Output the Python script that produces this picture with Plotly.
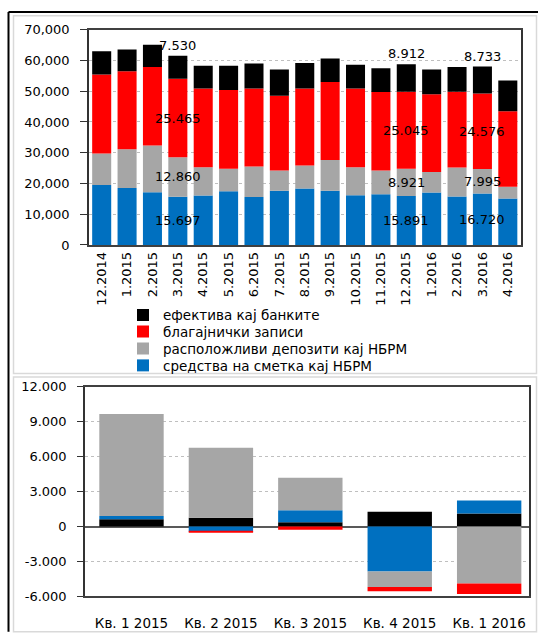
import plotly.graph_objects as go

W, H = 538, 634

# ---------------- data: top chart ----------------
months = ["12.2014", "1.2015", "2.2015", "3.2015", "4.2015", "5.2015", "6.2015",
          "7.2015", "8.2015", "9.2015", "10.2015", "11.2015", "12.2015", "1.2016",
          "2.2016", "3.2016", "4.2016"]
sredstva = [19500, 18540, 17140, 15697, 16100, 17460, 15560, 17590, 18320, 17590,
            16190, 16510, 15891, 17050, 15780, 16720, 15140]
depoziti = [10250, 12560, 15240, 12860, 9200, 7300, 9960, 6660, 7520, 10030,
            9110, 7740, 8921, 6660, 9420, 7995, 3810]
zapisi = [25700, 25400, 25520, 25465, 25600, 25620, 25380, 24320, 25080, 25400,
          25620, 25500, 25045, 25290, 24640, 24576, 24540]
efektiva = [7550, 7100, 7180, 7530, 7400, 7920, 8150, 8480, 8250, 7620,
            7710, 7710, 8912, 8050, 8060, 8733, 9970]
labelled_months = ["3.2015", "12.2015", "3.2016"]
top_tickvals = [0, 10000, 20000, 30000, 40000, 50000, 60000, 70000]
top_ticktext = ["0", "10,000", "20,000", "30,000", "40,000", "50,000", "60,000", "70,000"]

# ---------------- data: bottom chart ----------------
quarters = ["Кв. 1 2015", "Кв. 2 2015", "Кв. 3 2015", "Кв. 4 2015", "Кв. 1 2016"]
q_efektiva = [620, 757, 365, 1260, 1120]
q_sredstva = [280, -450, 1035, -3870, 1120]
q_depoziti = [8770, 6000, 2800, -1320, -4900]
q_zapisi = [0, -50, -280, -360, -900]
bot_tickvals = [-6000, -3000, 0, 3000, 6000, 9000, 12000]
bot_ticktext = ["-6.000", "-3.000", "0", "3.000", "6.000", "9.000", "12.000"]

names = {
    "ef": "ефектива кај банките",
    "za": "благајнички записи",
    "de": "расположливи депозити кај НБРМ",
    "sr": "средства на сметка кај НБРМ",
}
colors = {"ef": "#000000", "za": "#FF0000", "de": "#A6A6A6", "sr": "#0070C0"}

FONT = "DejaVu Sans"


def px_x(x):
    return x / W


def px_y(y):
    return 1 - y / H


# each legend entry gets its own legend box so rows can be spaced like the reference
legend_ids = {"ef": "legend", "za": "legend2", "de": "legend3", "sr": "legend4"}
legend_rows = {"legend": 315.7, "legend2": 332.7, "legend3": 350.0, "legend4": 367.3}

fig = go.Figure()

# top chart traces (bottom to top of stack)
for key, vals in [("sr", sredstva), ("de", depoziti), ("za", zapisi), ("ef", efektiva)]:
    fig.add_trace(go.Bar(x=months, y=vals, name=names[key], marker_color=colors[key],
                         marker_line_width=0, width=0.75, xaxis="x", yaxis="y",
                         legend=legend_ids[key]))

# bottom chart traces
for key, vals in [("ef", q_efektiva), ("sr", q_sredstva), ("de", q_depoziti), ("za", q_zapisi)]:
    fig.add_trace(go.Bar(x=quarters, y=vals, name=names[key], marker_color=colors[key],
                         marker_line_width=0, width=0.72, xaxis="x2", yaxis="y2",
                         showlegend=False))


def fmt(v):
    return f"{v:,}".replace(",", ".")


LBL = dict(family=FONT, size=13, color="black")
annotations = []
for m in labelled_months:
    i = months.index(m)
    b = 0
    for vals in (sredstva, depoziti, zapisi):
        annotations.append(dict(x=i, y=b + vals[i] / 2, xref="x", yref="y", text=fmt(vals[i]),
                                showarrow=False, font=LBL))
        b += vals[i]
    annotations.append(dict(x=i, y=b + efektiva[i], xref="x", yref="y", text=fmt(efektiva[i]),
                            showarrow=False, yanchor="bottom", yshift=1, font=LBL))

shapes = [
    dict(type="line", xref="paper", yref="paper", x0=px_x(8.5), x1=px_x(8.5), y0=px_y(5), y1=px_y(640),
         line=dict(color="black", width=2)),
    dict(type="line", xref="paper", yref="paper", x0=px_x(8.5), x1=px_x(540), y0=px_y(5), y1=px_y(5),
         line=dict(color="black", width=2)),
    dict(type="rect", xref="paper", yref="paper", x0=px_x(13.5), x1=px_x(536.5), y0=px_y(9), y1=px_y(375.5),
         line=dict(color="#D9D9D9", width=1.5)),
    dict(type="rect", xref="paper", yref="paper", x0=px_x(13.5), x1=px_x(536.5), y0=px_y(379), y1=px_y(640),
         line=dict(color="#D9D9D9", width=1.5)),
]

axis_font = dict(family=FONT, size=13, color="black")

legend_font = dict(family=FONT, size=13.5, color="black")
legend_layout = {}
for lid, yrow in legend_rows.items():
    legend_layout[lid] = dict(x=px_x(123), y=px_y(yrow), xanchor="left", yanchor="middle",
                              font=legend_font, bgcolor="rgba(0,0,0,0)", borderwidth=0,
                              itemwidth=30)

fig.update_layout(
    width=W, height=H,
    margin=dict(l=0, r=0, t=0, b=0),
    paper_bgcolor="white", plot_bgcolor="white",
    barmode="relative",
    font=dict(family=FONT, size=13, color="black"),
    showlegend=True,
    xaxis=dict(domain=[px_x(89), px_x(520.5)], anchor="y", type="category",
               tickangle=-90, tickfont=axis_font, showline=True, mirror=True,
               linecolor="#404040", linewidth=1.5, ticks="", showgrid=False,
               range=[-0.5, 16.5]),
    yaxis=dict(domain=[px_y(243.7), px_y(23.3)], anchor="x", range=[0, 70000],
               tickvals=top_tickvals, ticktext=top_ticktext, tickfont=axis_font,
               showline=True, mirror=True, linecolor="#333333", linewidth=1.5,
               ticks="outside", ticklen=7, tickcolor="#333333", ticklabelstandoff=8,
               showgrid=True, gridcolor="#BFBFBF", griddash="dot", gridwidth=1,
               zeroline=False),
    xaxis2=dict(domain=[px_x(85), px_x(528.5)], anchor="y2", type="category",
                tickfont=dict(family=FONT, size=13.5, color="black"), showline=True, mirror=True,
                linecolor="#404040", linewidth=1.5, ticks="", showgrid=False,
                range=[-0.52, 4.44], ticklabelstandoff=14),
    yaxis2=dict(domain=[px_y(603.7), px_y(389)], anchor="x2", range=[-6000, 12000],
                tickvals=bot_tickvals, ticktext=bot_ticktext, tickfont=axis_font,
                showline=True, mirror=True, linecolor="#333333", linewidth=1.5,
                ticks="outside", ticklen=6, tickcolor="#333333", ticklabelstandoff=8,
                showgrid=True, gridcolor="#BFBFBF", griddash="dot", gridwidth=1,
                zeroline=True, zerolinecolor="#595959", zerolinewidth=1.5),
    annotations=annotations,
    shapes=shapes,
    **legend_layout,
)

fig.write_html("out.html", config={"displayModeBar": False},
               post_script="document.body.style.margin='0';document.body.style.padding='0';")
